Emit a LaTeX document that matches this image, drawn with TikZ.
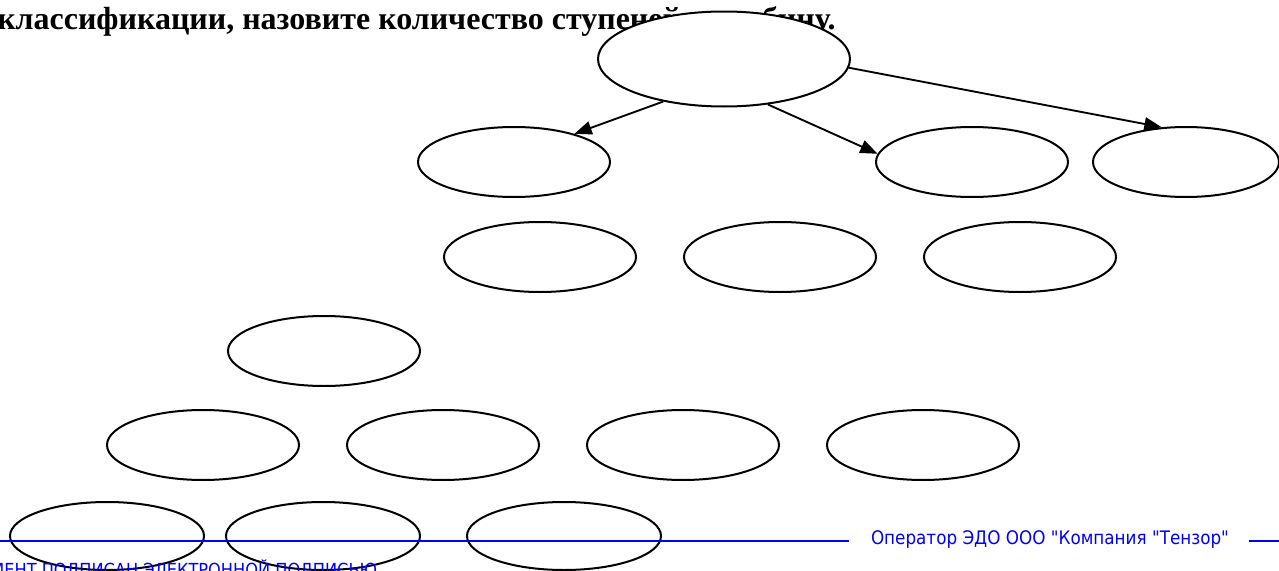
\documentclass[tikz,border=0pt]{standalone}
\usepackage{fontspec}
\setmainfont{Liberation Serif}
\newfontfamily\stampfont{DejaVu Sans Condensed}
\usetikzlibrary{arrows.meta,shapes.geometric}

\begin{document}
\begin{tikzpicture}[x=0.75pt,y=-0.75pt,
  oval/.style={ellipse,draw,line width=1.5pt,fill=white,inner sep=0pt,
    minimum width=144pt,minimum height=52.5pt},
  link/.style={line width=1.4pt,-{Triangle[length=13pt,width=10pt]}},
  stamp/.style={blue,line width=1.3pt}]
  \useasboundingbox (0,0) rectangle (1279,571);

  \node[anchor=base west,inner sep=0pt,font=\bfseries\fontsize{24}{28}\selectfont] (task) at (-3,30)
    {классификации, назовите количество ступеней и глубину.};

  \node[oval,minimum width=189pt,minimum height=71.25pt] (root) at (724,59) {};

  \node[oval] (a1) at (514,162) {};
  \node[oval] (a2) at (972,162) {};
  \node[oval,minimum width=139.5pt] (a3) at (1186,162) {};

  \node[oval] (b1) at (540,257) {};
  \node[oval] (b2) at (780,257) {};
  \node[oval] (b3) at (1020,257) {};

  \node[oval] (c1) at (324,351) {};

  \node[oval] (d1) at (203,445) {};
  \node[oval] (d2) at (443,445) {};
  \node[oval] (d3) at (683,445) {};
  \node[oval] (d4) at (923,445) {};

  \node[oval,minimum width=145.5pt,minimum height=51pt] (e1) at (107,536) {};
  \node[oval,minimum width=145.5pt,minimum height=51pt] (e2) at (323,536) {};
  \node[oval,minimum width=145.5pt,minimum height=51pt] (e3) at (564,536) {};

  \draw[link] (root.215) -- (a1.25);
  \draw[link] (root.314) -- (a2.175);
  \draw[link] (root.-4) -- (a3.125);

  % stamp
  \node[stamp,anchor=mid,inner sep=0pt,font=\stampfont\fontsize{14}{16}\selectfont] (op) at (1050,541)
    {Оператор ЭДО ООО "Компания "Тензор"};
  \coordinate (sl) at (0,541);
  \coordinate (sr) at (1279,541);
  \draw[stamp] (sl) -- ([xshift=-16pt]op.west |- sl);
  \draw[stamp] ([xshift=14pt]op.east |- sr) -- (sr);
  \node[stamp,anchor=base east,inner sep=0pt,font=\stampfont\fontsize{13.5}{16}\selectfont] (sign) at (378,576)
    {ДОКУМЕНТ ПОДПИСАН ЭЛЕКТРОННОЙ ПОДПИСЬЮ};
\end{tikzpicture}
\end{document}
